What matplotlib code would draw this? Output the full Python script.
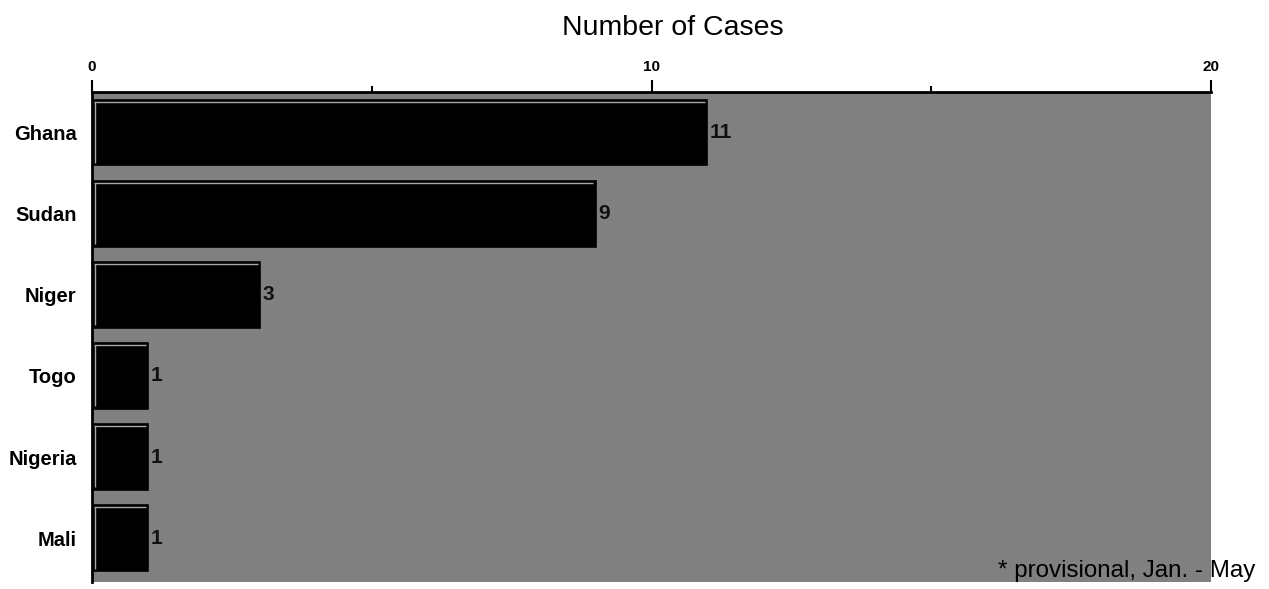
import matplotlib
matplotlib.use("Agg")
import matplotlib.pyplot as plt
from matplotlib.ticker import FixedLocator

countries = ["Ghana", "Sudan", "Niger", "Togo", "Nigeria", "Mali"]
cases = [11, 9, 3, 1, 1, 1]
major_ticks = [0, 10, 20]
minor_ticks = [5, 15]
title = "Number of Cases"
footnote = "* provisional, Jan. - May"

plt.rcParams['font.family'] = ['Liberation Sans', 'DejaVu Sans']

fig = plt.figure(figsize=(12.69, 5.89), dpi=100)
ax = fig.add_axes([92/1269, 1-582/589, (1211-92)/1269, (582-92)/589])
ax.set_facecolor('#808080')

ypos = list(range(len(countries)))
h = 0.81
ax.barh(ypos, cases, height=h, color='black', edgecolor='black', linewidth=1.2, zorder=2)
# light highlight on top and left of each bar
for y, v in zip(ypos, cases):
    top = y - h/2 + 0.025
    ax.hlines(top, 0.04, v - 0.04, colors='#a8a8a8', linewidth=1.0, zorder=3)
    ax.vlines(0.06, top, y + h/2 - 0.03, colors='#a8a8a8', linewidth=1.0, zorder=3)
    ax.text(v + 0.04, y, str(v), ha='left', va='center', fontsize=15,
            fontweight='bold', color='#111111', zorder=4)

ax.set_xlim(0, 20)
ax.set_ylim(5.54, -0.5)
ax.xaxis.set_major_locator(FixedLocator(major_ticks))
ax.xaxis.set_minor_locator(FixedLocator(minor_ticks))
ax.xaxis.tick_top()
ax.tick_params(axis='x', which='major', direction='out', length=9, width=1.5,
               pad=4, labelsize=11, top=True, bottom=False)
ax.tick_params(axis='x', which='minor', direction='out', length=4, width=1.5,
               top=True, bottom=False)
ax.set_xticklabels([str(t) for t in major_ticks], fontweight='bold')

ax.set_yticks(ypos)
ax.set_yticklabels(countries, fontsize=14.5, fontweight='bold')
ax.tick_params(axis='y', length=0, pad=11)

ax.spines['right'].set_visible(False)
ax.spines['bottom'].set_visible(False)
ax.spines['top'].set_linewidth(2)
ax.spines['left'].set_linewidth(2)

fig.text(673/1269, 1-28/589, title, ha='center', va='center', fontsize=20.5)
fig.text(1255/1269, 1-571/589, footnote, ha='right', va='center', fontsize=17.4, zorder=5)

fig.savefig("out.png", dpi=100)
